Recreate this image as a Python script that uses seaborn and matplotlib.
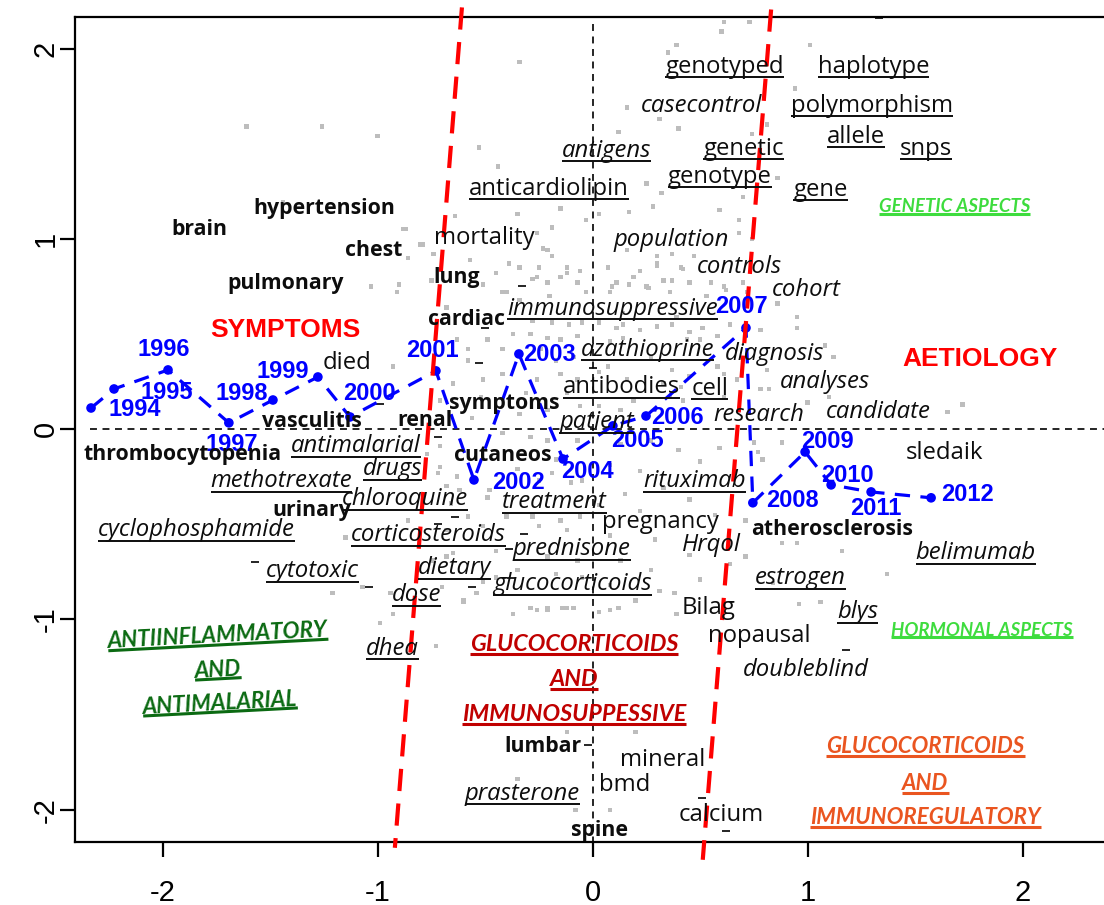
import numpy as np
import pandas as pd
import matplotlib
matplotlib.use("Agg")
import matplotlib.pyplot as plt
import seaborn as sns

sns.set_theme(style="white")
plt.rcParams["font.family"] = ["Open Sans", "DejaVu Sans"]
plt.rcParams["lines.scale_dashes"] = False

# ---------------------------------------------------------------- data
# correspondence-analysis coordinates of terms (gray dots)
gray_x = [-0.34, 0.39, 0.35, 0.60, 0.61, 0.16, 0.31, 0.40, 0.12, -0.53, -0.44, 0.25, 0.32, -0.15, 0.03,
          0.17, -0.35, 0.28, 0.59, 0.68, -0.03, -0.26, -0.19, -0.87, -0.79, -0.23, -0.19, -0.39, -0.25,
          -0.28, -0.12, 0.07, 0.09, 0.19, 0.25, 0.30, 0.37, 0.42, 0.47, 0.55, 0.61, 0.68, -0.21, -0.51,
          -0.40, 0.73, 1.01, 0.94, 0.81, 0.74, 0.86, 0.70, 0.74, 0.72, -1.61, -1.26, -1.00, -1.44, -0.88,
          -0.80, -0.64, -0.86, -0.74, -1.03, -0.90, -0.91, -0.75, -0.93, -0.71, -0.71, -0.72, -0.68, -0.86,
          -1.15, -0.68, -0.66, -1.07, -1.21, -0.94, -0.93, -0.99, -0.73, -0.51, -0.60, -0.26, -0.21, -0.14,
          -0.09, 0.03, 0.08, 0.12, 0.39, 0.38, -0.12, 0.20, 0.08, -0.08, -0.35, 0.00, -0.02, 0.96, 1.06,
          0.86, 0.95, 0.95, 1.08, 1.12, 0.82, 1.10, 1.00, 1.65, 1.72, 0.75, 0.77, 0.88, 0.79, 0.71, 0.88,
          0.95, 1.16, 1.37, 0.71, 0.84, 0.16, 0.30, 0.37, 0.41, 0.30, 0.22, 0.11, 0.17, 0.26, 0.33, 0.45,
          0.36, 0.08, 0.53, 0.62, 0.70, 0.03, 0.11, 0.14, 0.22, 0.30, 0.37, 0.45, 0.51, 0.58, 0.64, 0.78,
          0.14, 0.08, 0.44, 0.50, 0.58, 0.61, 0.03, 0.37, 0.45, 0.41, 0.36, 0.19, 0.03, 0.13, 0.61, 0.78,
          0.67, 0.81, 0.16, 0.33, 0.42, 0.07, 0.14, 0.39, 0.27, -0.39, -0.34, -0.19, -0.12, -0.06, -0.26,
          -0.21, -0.15, -0.07, -0.03, -0.42, -0.45, -0.34, -0.20, -0.28, -0.19, -0.11, -0.05, -0.37, -0.29,
          -0.21, -0.15, -0.07, -0.42, -0.24, -0.17, -0.09, -0.49, -0.58, -0.58, -0.63, -0.42, -0.51, -0.26,
          -0.15, -0.07, -0.31, -0.52, -0.65, -0.12, -0.06, -0.34, -0.21, -0.56, -0.68, -0.57, -0.21, -0.77,
          -0.71, -0.63, -0.62, -0.48, -0.35, -0.25, -0.19, -0.10, -0.05, -0.17, -0.21, -0.29, -0.07, -0.42,
          -0.49, -0.40, -0.28, -0.15, -0.06, -0.58, -0.51, -0.68, -0.25, -0.12, -0.45, -0.65, -0.21, -0.07,
          -0.74, -0.35, -0.45, -0.17, -0.05, -0.70, -0.54, -0.60, -0.29, -0.21, -0.12, -0.37, 0.13, 0.27,
          0.40, 0.50, 0.59, 0.08, 0.22, 0.33, 0.15, 0.03, 0.22, 0.45, 0.57, 0.08, 0.29, 0.45, 0.13, 0.27,
          0.08, 0.31, 0.50, 0.64, 0.20]
gray_y = [1.93, 2.02, 1.98, 2.09, 2.14, 1.69, 1.63, 1.58, 1.56, 1.48, 1.38, 1.29, 1.24, 1.16, 1.13,
          1.14, 1.13, 1.17, 1.15, 1.10, 1.10, 1.03, 1.06, 1.05, 0.97, 0.95, 0.91, 0.87, 0.85,
          0.79, 0.82, 0.85, 0.75, 0.80, 0.75, 0.87, 0.78, 0.84, 0.91, 0.77, 0.75, 1.03, 0.77, 0.76,
          0.72, 2.14, 2.02, 1.79, 1.60, 1.55, 1.32, 1.22, 1.00, 0.72, 1.59, 1.59, 1.54, 1.19, 1.05,
          0.97, 1.12, 0.90, 0.92, 0.75, 0.76, 0.72, 0.78, 0.33, 0.15, -0.09, -0.23, -0.30, -0.48,
          -0.57, -0.67, -0.39, -0.83, -0.86, -0.86, -0.97, -1.02, -1.14, -0.80, -0.91, -0.95, -0.95, -0.94,
          -0.94, -0.96, -0.95, -0.94, -0.97, -0.86, -1.59, -1.59, -2.00, -2.00, -1.84, -2.29, -2.30, -0.92, -0.91,
          0.66, 0.59, 0.53, 0.44, 0.38, 0.21, 0.17, 0.14, 0.09, 0.13, -0.07, -0.12, -0.07, -0.16, -0.48, -0.60,
          -0.60, -0.64, -0.76, -0.67, -0.81, 0.94, 0.91, 0.92, 0.85, 0.86, 0.83, 0.77, 0.76, 0.74, 0.78, 0.77,
          0.72, 0.72, 0.70, 0.73, 0.77, 0.56, 0.53, 0.55, 0.52, 0.54, 0.55, 0.51, 0.53, 0.49, 0.55, 0.52,
          0.48, 0.46, 0.47, 0.47, 0.33, 0.29, 0.30, 0.31, 0.28, 0.22, 0.17, 0.15, 0.12, 0.10, 0.17, 0.21,
          0.26, 0.31, 0.26, 0.24, 0.15, 0.33, 0.61, 0.59, 0.38, 0.87, 0.85, 0.91, 0.85, 0.83, 0.80,
          0.77, 0.80, 0.77, 0.72, 0.72, 0.82, 0.68, 0.70, 0.57, 0.56, 0.55, 0.56, 0.50, 0.50,
          0.48, 0.47, 0.49, 0.42, 0.42, 0.36, 0.38, 0.47, 0.42, 0.36, 0.47, 0.29, 0.26, 0.26,
          0.29, 0.26, 0.19, 0.17, 0.24, 0.19, 0.12, 0.08, 0.10, 0.06, 0.64, 0.89, 0.94, -0.13,
          -0.20, -0.25, -0.32, -0.32, -0.21, -0.27, -0.23, -0.28, -0.27, -0.16, -0.06, -0.04, -0.06, -0.02,
          -0.36, -0.46, -0.46, -0.48, -0.46, -0.46, -0.51, -0.53, -0.51, -0.53, -0.64, -0.65, -0.67, -0.69,
          -0.69, -0.74, -0.78, -0.76, -0.78, -0.83, -0.86, -0.90, -0.94, -0.94, -0.94, -0.97, -0.08, -0.06,
          -0.11, -0.17, -0.10, -0.19, -0.22, -0.31, -0.34, -0.40, -0.43, -0.37, -0.45, -0.56, -0.58, -0.66, -0.69, -0.74,
          -0.82, -0.85, -0.79, -0.71, -0.90]

# tiny dash marks (unlabelled terms)
dash_x = [1.33, -0.33, -0.53, -0.99, -0.72, -1.57, -1.04, -0.64, -0.72, -0.32, -0.38, -0.56,
          -0.39, 1.18, -0.02, 0.62, 0.00, -0.50, 0.51]
dash_y = [2.16, 0.75, 0.35, 0.13, -0.04, -0.70, -0.83, -0.46, -0.50, -0.55, -0.78, -0.83,
          -0.63, -1.16, -1.66, -2.11, 0.32, 0.53, -1.94]

# yearly trajectory
years = ["1994", "1995", "1996", "1997", "1998", "1999", "2000", "2001", "2002", "2003",
         "2004", "2005", "2006", "2007", "2008", "2009", "2010", "2011", "2012"]
year_x = [-2.333, -2.226, -1.975, -1.692, -1.487, -1.278, -1.129, -0.729, -0.552, -0.343,
          -0.138, 0.094, 0.248, 0.713, 0.745, 0.988, 1.109, 1.295, 1.574]
year_y = [0.111, 0.211, 0.311, 0.033, 0.153, 0.274, 0.064, 0.306, -0.267, 0.395,
          -0.157, 0.017, 0.069, 0.532, -0.387, -0.120, -0.293, -0.330, -0.361]
year_lab_x = [-2.129, -1.980, -1.994, -1.678, -1.631, -1.441, -1.036, -0.747, -0.347, -0.203,
              -0.026, 0.206, 0.392, 0.694, 0.931, 1.090, 1.183, 1.318, 1.741]
year_lab_y = [0.101, 0.195, 0.421, -0.083, 0.185, 0.301, 0.185, 0.411, -0.283, 0.390,
              -0.225, -0.062, 0.059, 0.642, -0.377, -0.067, -0.246, -0.418, -0.341]

# labelled terms: b = bold, r = regular, i = italic, u = underlined
word_text = ["genotyped", "haplotype", "casecontrol", "polymorphism", "antigens", "genetic", "allele",
             "snps", "genotype", "anticardiolipin", "gene", "hypertension", "brain", "mortality",
             "population", "chest", "lung", "controls", "pulmonary", "cohort", "cardiac",
             "immunosuppressive", "azathioprine", "diagnosis", "died", "antibodies", "cell", "analyses",
             "symptoms", "vasculitis", "renal", "patient", "research", "candidate", "thrombocytopenia",
             "antimalarial", "cutaneos", "sledaik", "drugs", "methotrexate", "rituximab", "urinary",
             "chloroquine", "treatment", "pregnancy", "atherosclerosis", "cyclophosphamide",
             "corticosteroids", "prednisone", "Hrqol", "belimumab", "cytotoxic", "dietary",
             "glucocorticoids", "estrogen", "dose", "Bilag", "blys", "nopausal", "dhea", "doubleblind",
             "lumbar", "mineral", "prasterone", "bmd", "calcium", "spine"]
word_x = [0.614, 1.307, 0.507, 1.298, 0.065, 0.702, 1.223, 1.549, 0.591, -0.205, 1.060, -1.247, -1.828,
          -0.502, 0.367, -1.019, -0.633, 0.684, -1.428, 0.995, -0.586, 0.093, 0.256, 0.847, -1.144,
          0.135, 0.544, 1.079, -0.409, -1.307, -0.781, 0.019, 0.772, 1.330, -1.907, -1.102, -0.419,
          1.637, -0.930, -1.447, 0.474, -1.307, -0.874, -0.177, 0.316, 1.112, -1.842, -0.763, -0.098,
          0.553, 1.781, -1.302, -0.642, -0.093, 0.967, -0.819, 0.540, 1.233, 0.777, -0.930, 0.991,
          -0.233, 0.326, -0.326, 0.149, 0.600, 0.033]
word_y = [1.905, 1.905, 1.700, 1.700, 1.463, 1.474, 1.537, 1.474, 1.326, 1.263, 1.258, 1.158, 1.047,
          1.005, 0.995, 0.937, 0.795, 0.853, 0.763, 0.732, 0.574, 0.632, 0.416, 0.395, 0.347,
          0.221, 0.211, 0.247, 0.137, 0.042, 0.047, 0.037, 0.074, 0.089, -0.132, -0.089, -0.137,
          -0.126, -0.211, -0.274, -0.274, -0.426, -0.368, -0.384, -0.489, -0.528, -0.532, -0.558, -0.632,
          -0.611, -0.653, -0.747, -0.732, -0.816, -0.784, -0.874, -0.942, -0.963, -1.089, -1.153, -1.268,
          -1.668, -1.737, -1.916, -1.868, -2.026, -2.110]
word_style = ["ru", "ru", "i", "ru", "iu", "ru", "ru", "ru", "ru", "ru", "ru", "b", "b", "r",
              "i", "b", "b", "i", "b", "i", "b", "iu", "iu", "i", "r", "ru", "ru", "i",
              "b", "b", "b", "iu", "i", "i", "b", "iu", "b", "r", "iu", "iu", "iu", "b",
              "iu", "iu", "r", "b", "iu", "iu", "iu", "i", "iu", "iu", "iu", "iu", "iu", "iu", "r",
              "iu", "r", "iu", "i", "b", "r", "iu", "r", "r", "b"]

# cluster headings
head_text = ["GENETIC ASPECTS", "HORMONAL ASPECTS", "ANTIINFLAMMATORY", "AND", "ANTIMALARIAL",
             "GLUCOCORTICOIDS", "AND", "IMMUNOSUPPESSIVE", "GLUCOCORTICOIDS", "AND", "IMMUNOREGULATORY"]
head_x = [1.684, 1.812, -1.743, -1.743, -1.733, -0.087, -0.087, -0.087, 1.548, 1.548, 1.548]
head_y = [1.168, -1.058, -1.087, -1.265, -1.439, -1.134, -1.318, -1.502, -1.670, -1.864, -2.043]
head_color = ["#3EDC3E", "#3EDC3E", "#0B6A12", "#0B6A12", "#0B6A12", "#C00000", "#C00000",
              "#C00000", "#EA5520", "#EA5520", "#EA5520"]
head_size = [13.4, 13.4, 16.2, 16.2, 16.2, 16.8, 16.8, 16.8, 16.0, 16.0, 16.0]
head_rot = [0, 0, 3, 3, 3, 0, 0, 0, 0, 0, 0]

# dimension interpretation
dim_text = ["SYMPTOMS", "AETIOLOGY"]
dim_x = [-1.431, 1.801]
dim_y = [0.521, 0.369]

# separating lines (endpoints)
sep_left_x = [-0.608, -0.920]
sep_left_y = [2.216, -2.200]
sep_right_x = [0.830, 0.512]
sep_right_y = [2.205, -2.263]

# ---------------------------------------------------------------- figure
W, H = 1104, 905
fig = plt.figure(figsize=(W / 100, H / 100), dpi=100)
ax = fig.add_axes([74.7 / W, 63.3 / H, (1120 - 74.7) / W, (841.7 - 17.3) / H])
ax.set_xlim(-2.409, (1120 - 592.7) / 215)
ax.set_ylim(-2.168, 2.164)
ax.set_facecolor("white")

for s in ["left", "top", "bottom", "right"]:
    ax.spines[s].set_color("black")
    ax.spines[s].set_linewidth(1.6)

ax.set_xticks([-2, -1, 0, 1, 2])
ax.set_yticks([-2, -1, 0, 1, 2])
ax.set_xticklabels(["-2", "-1", "0", "1", "2"])
ax.set_yticklabels(["-2", "-1", "0", "1", "2"])
ax.tick_params(axis="both", direction="out", length=11, width=1.6, color="black",
               labelsize=21, labelcolor="black", bottom=True, left=True)
ax.tick_params(axis="x", pad=16)
ax.tick_params(axis="y", pad=0, labelrotation=90)
for lab in ax.get_xticklabels() + ax.get_yticklabels():
    lab.set_fontfamily(["Liberation Sans", "DejaVu Sans"])
for lab in ax.get_yticklabels():
    lab.set_verticalalignment("center")

# gray term cloud
pts = pd.DataFrame({"x": gray_x, "y": gray_y})
sns.scatterplot(data=pts, x="x", y="y", marker="s", s=10, color="#BDBDBD",
                edgecolor="none", linewidth=0, ax=ax, zorder=1, legend=False)

dash_pts = pd.DataFrame({"x": dash_x, "y": dash_y})
sns.scatterplot(data=dash_pts, x="x", y="y", marker="_", s=30, color="black",
                linewidth=1.2, ax=ax, zorder=2, legend=False)

# reference axes through origin
ax.plot([-2.34, 2.45], [0, 0], color="black", lw=1.2, dashes=(5, 4), zorder=2, clip_on=False)
ax.plot([0, 0], [2.13, -2.25], color="black", lw=1.2, dashes=(5, 4), zorder=2, clip_on=False)

# separating lines between clusters
ax.plot(sep_left_x, sep_left_y, color="#FF0000", lw=3, dashes=(16, 9), zorder=6, clip_on=False)
ax.plot(sep_right_x, sep_right_y, color="#FF0000", lw=3, dashes=(16, 9), zorder=6, clip_on=False)

# yearly trajectory
traj = pd.DataFrame({"x": year_x, "y": year_y, "year": years})
sns.lineplot(data=traj, x="x", y="y", sort=False, estimator=None, color="#0000FF",
             linewidth=2.3, ax=ax, zorder=4, legend=False)
ax.lines[-1].set_dashes((11, 7.5))
sns.scatterplot(data=traj, x="x", y="y", s=48, color="#0000FF", edgecolor="none",
                ax=ax, zorder=5, legend=False)
ax.set_xlabel("")
ax.set_ylabel("")
for t, x, y in zip(years, year_lab_x, year_lab_y):
    ax.text(x, y, t, color="#0000FF", fontsize=17, fontweight="bold",
            family=["Liberation Sans", "DejaVu Sans"], ha="center", va="center", zorder=7)

underlined = []

for t, x, y, st in zip(word_text, word_x, word_y, word_style):
    if st == "b":
        txt = ax.text(x, y, t, fontsize=15.3, fontweight="bold", color="#0D0D0D",
                      ha="center", va="center", zorder=7)
    else:
        txt = ax.text(x, y, t, fontsize=17.2, color="#0D0D0D",
                      fontstyle="italic" if st.startswith("i") else "normal",
                      ha="center", va="center", zorder=7)
    if st.endswith("u"):
        underlined.append((txt, x, y, 0.0, "#0D0D0D", 1.4))

for t, x, y, c, fs, rot in zip(head_text, head_x, head_y, head_color, head_size, head_rot):
    txt = ax.text(x, y, t, fontsize=fs, fontweight="bold", fontstyle="italic", color=c,
                  family=["Lato", "DejaVu Sans"], ha="center", va="center", zorder=7)
    underlined.append((txt, x, y, rot, c, 2.2))

for t, x, y in zip(dim_text, dim_x, dim_y):
    ax.text(x, y, t, fontsize=19, fontweight="bold", color="#FF0000",
            family=["Liberation Sans Narrow", "Liberation Sans", "DejaVu Sans"],
            ha="center", va="center", zorder=7)

# underlines: measured from the rendered text extents
fig.canvas.draw()
renderer = fig.canvas.get_renderer()
inv = ax.transData.inverted()
for txt, x, y, rot, c, lw in underlined:
    bb = txt.get_window_extent(renderer)
    ax0, ay0 = ax.transData.transform((x, y))
    half = bb.width / 2
    off = bb.y0 - ay0 + 1.5
    th = np.deg2rad(rot)
    rotm = np.array([[np.cos(th), -np.sin(th)], [np.sin(th), np.cos(th)]])
    p0 = np.array([ax0, ay0]) + rotm @ np.array([-half, off])
    p1 = np.array([ax0, ay0]) + rotm @ np.array([half, off])
    d0 = inv.transform(p0)
    d1 = inv.transform(p1)
    ax.plot([d0[0], d1[0]], [d0[1], d1[1]], color=c, lw=lw, zorder=7,
            clip_on=False, solid_capstyle="butt")
    if rot:
        txt.set_rotation(rot)
        txt.set_rotation_mode("anchor")

fig.savefig("out.png", dpi=100, facecolor="white")
